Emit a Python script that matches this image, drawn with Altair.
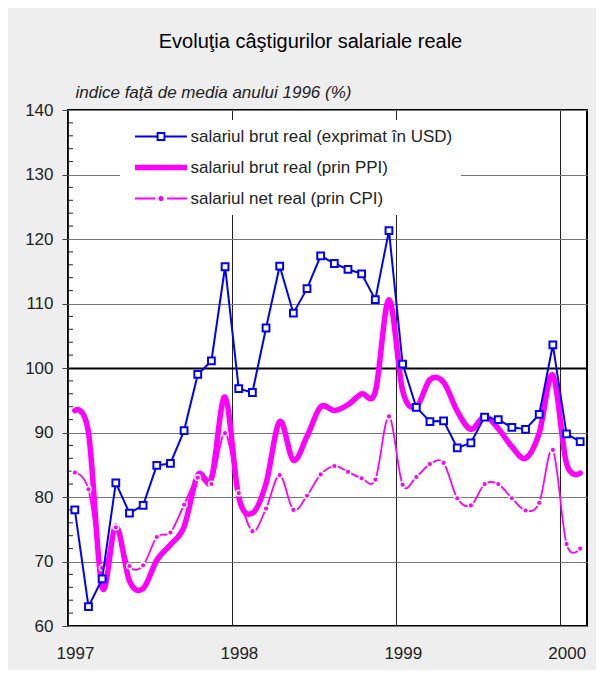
import altair as alt
import pandas as pd

FONT = "Liberation Sans"

# months: Jan 1997 .. Feb 2000 (index 0..37), plotted at mid-month
months = list(range(38))
series_names = [
    "salariul brut real (exprimat în USD)",
    "salariul brut real (prin PPI)",
    "salariul net real (prin CPI)",
]
usd = [78.0, 63.0, 67.3, 82.2, 77.5, 78.7, 84.9, 85.2, 90.3, 99.0, 101.1, 115.7,
       96.8, 96.2, 106.2, 115.8, 108.5, 112.3, 117.4, 116.2, 115.3, 114.6, 110.6, 121.3,
       100.6, 93.9, 91.7, 91.8, 87.6, 88.4, 92.4, 92.0, 90.8, 90.5, 92.8, 103.6,
       89.8, 88.6]
ppi = [93.4, 90.0, 66.0, 75.5, 67.0, 65.8, 70.2, 72.6, 75.4, 83.4, 82.9, 95.5,
       80.0, 77.5, 82.1, 91.7, 85.7, 89.4, 94.0, 93.4, 94.3, 96.0, 96.3, 110.6,
       96.5, 94.0, 98.2, 97.8, 93.3, 90.5, 92.5, 90.6, 87.8, 86.0, 89.9, 98.9,
       85.2, 83.7]
cpi = [83.8, 81.2, 69.0, 75.3, 69.3, 69.4, 73.8, 74.5, 78.8, 83.0, 82.0, 89.9,
       80.6, 74.7, 78.2, 83.4, 78.0, 80.2, 83.5, 84.8, 83.9, 82.9, 82.7, 92.5,
       81.9, 83.1, 85.1, 85.3, 79.8, 78.7, 82.0, 82.0, 79.8, 77.9, 79.1, 87.3,
       72.7, 72.0]
year_ticks = [0, 12, 24, 36]
y_ticks = [60, 70, 80, 90, 100, 110, 120, 130, 140]
minor_ticks = [v for v in range(62, 140, 2) if v % 10 != 0]

rows = []
for name, vals in zip(series_names, [usd, ppi, cpi]):
    for m, v in zip(months, vals):
        rows.append({"t": m + 0.5, "v": v, "serie": name})
df = pd.DataFrame(rows)
df_usd = df[df.serie == series_names[0]]
df_ppi = df[df.serie == series_names[1]]
df_cpi = df[df.serie == series_names[2]]
df_minor = pd.DataFrame({"v": minor_ticks})

BLUE = "#0000ff"
MAG = "#ff00ff"

x_enc = alt.X(
    "t:Q",
    scale=alt.Scale(domain=[0, 38], nice=False, zero=False),
    axis=alt.Axis(
        values=year_ticks,
        labelExpr="'' + (1997 + datum.value / 12)",
        title=None,
        ticks=False,
        domain=False,
        labelPadding=19,
        labelOffset=7,
        labelFlush=False,
        labelFont=FONT,
        labelFontSize=17,
        labelColor="#222",
        grid=True,
        gridColor="#222",
        gridWidth=1,
    ),
)
y_enc = alt.Y(
    "v:Q",
    scale=alt.Scale(domain=[60, 140], nice=False, zero=False),
    axis=alt.Axis(
        values=y_ticks,
        title="indice faţă de media anului 1996 (%)",
        titleAngle=0,
        titleAlign="left",
        titleBaseline="alphabetic",
        titleX=7,
        titleY=-13,
        titleFont=FONT,
        titleFontSize=17,
        titleFontStyle="italic",
        titleFontWeight="normal",
        titleColor="#222",
        labelFont=FONT,
        labelFontSize=17,
        labelColor="#222",
        labelPadding=9,
        tickSize=6,
        tickColor="#444",
        domain=False,
        grid=True,
        gridColor={"condition": {"test": "datum.value === 100", "value": "black"}, "value": "#777777"},
        gridWidth={"condition": {"test": "datum.value === 100", "value": 2}, "value": 1},
    ),
)

# legend symbols (custom SVG paths, unit = sqrt(symbolSize)/2 px)
usd_path = "M-6.5,-0.25H-1.1V-1.1H1.1V-0.25H6.5V0.25H1.1V1.1H-1.1V0.25H-6.5Z M-0.62,-0.62V0.62H0.62V-0.62Z"
ppi_path = "M-6.5,-0.68H6.5V0.68H-6.5Z"
cpi_path = ("M-6.5,-0.22H-1.5V0.22H-6.5Z M1.5,-0.22H6.5V0.22H1.5Z "
            "M-0.65,0A0.65,0.65 0 1,0 0.65,0A0.65,0.65 0 1,0 -0.65,0Z")

legend = alt.Legend(
    orient="none",
    legendX=52,
    legendY=10,
    title=None,
    padding=8,
    fillColor="white",
    symbolSize=64,
    symbolStrokeWidth=0,
    symbolOffset=24.5,
    labelOffset=21,
    rowPadding=13,
    labelFont=FONT,
    labelFontSize=17,
    labelColor="#222",
    labelLimit=500,
)

minor = alt.Chart(df_minor).mark_rule(color="#222", strokeWidth=1).encode(
    y=y_enc, x=alt.value(0), x2=alt.value(5)
)
ppi_line = alt.Chart(df_ppi).mark_line(
    interpolate="cardinal", strokeWidth=5.5, strokeCap="round", strokeJoin="round", color=MAG
).encode(x=x_enc, y=y_enc)
cpi_line = alt.Chart(df_cpi).mark_line(
    interpolate="cardinal", strokeWidth=1.8, color=MAG
).encode(x=x_enc, y=y_enc)
cpi_pts = alt.Chart(df_cpi).mark_point(
    shape="circle", filled=True, size=32, fill=MAG, stroke="white", strokeWidth=1.5, opacity=1
).encode(x=x_enc, y=y_enc)
usd_line = alt.Chart(df_usd).mark_line(strokeWidth=2, color=BLUE).encode(x=x_enc, y=y_enc)
usd_pts = alt.Chart(df_usd).mark_point(
    shape="square", filled=True, size=46, fill="white", stroke=BLUE, strokeWidth=2, opacity=1
).encode(x=x_enc, y=y_enc)

# legend carrier: no rows drawn, scales carry the three series
legend_layer = alt.Chart(df).transform_filter("false").mark_point(
    filled=True, size=64, strokeWidth=0, opacity=1
).encode(
    x=x_enc,
    y=y_enc,
    color=alt.Color("serie:N", scale=alt.Scale(domain=series_names, range=[BLUE, MAG, MAG]), legend=legend),
    shape=alt.Shape("serie:N", scale=alt.Scale(domain=series_names, range=[usd_path, ppi_path, cpi_path]), legend=legend),
)

chart = alt.layer(minor, ppi_line, cpi_line, cpi_pts, usd_line, usd_pts, legend_layer).properties(
    width=519,
    height=516,
    background="#eeeeee",
    autosize=alt.AutoSizeParams(type="none"),
    padding={"left": 60, "top": 102, "right": 9, "bottom": 44},
    title=alt.Title(
        "Evoluţia câştigurilor salariale reale",
        font=FONT,
        fontSize=20,
        fontWeight="normal",
        color="black",
        anchor="middle",
        dx=-17,
        offset=31,
    ),
).configure_view(fill="white", stroke="black", strokeWidth=2)

chart.save("out.html", embed_options={"renderer": "svg", "actions": False})
